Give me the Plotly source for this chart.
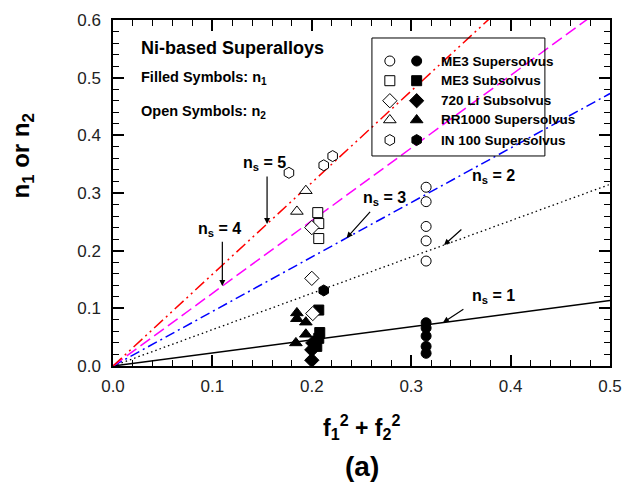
import math
import plotly.graph_objects as go

# ---------------- data ----------------
series_names = ["ME3 Supersolvus", "ME3 Subsolvus", "720 Li Subsolvus",
                "RR1000 Supersolvus", "IN 100 Supersolvus"]
series_symbols = ["circle", "square", "diamond", "triangle-up", "hexagon"]

# open symbols: n2 ; filled symbols: n1
me3_super_n2_x = [0.315, 0.315, 0.315, 0.315, 0.315]
me3_super_n2_y = [0.310, 0.285, 0.242, 0.217, 0.182]
me3_super_n1_x = [0.315, 0.315, 0.315, 0.315, 0.315]
me3_super_n1_y = [0.075, 0.066, 0.052, 0.034, 0.022]

me3_sub_n2_x = [0.206, 0.207, 0.207]
me3_sub_n2_y = [0.266, 0.247, 0.221]
me3_sub_n1_x = [0.207, 0.208, 0.207, 0.205]
me3_sub_n1_y = [0.097, 0.058, 0.048, 0.034]

li720_n2_x = [0.200, 0.200, 0.201]
li720_n2_y = [0.240, 0.152, 0.091]
li720_n1_x = [0.200, 0.200, 0.201]
li720_n1_y = [0.010, 0.028, 0.040]

rr1000_n2_x = [0.194, 0.185]
rr1000_n2_y = [0.304, 0.268]
rr1000_n1_x = [0.185, 0.185, 0.194, 0.194, 0.184]
rr1000_n1_y = [0.092, 0.082, 0.076, 0.055, 0.040]

in100_n2_x = [0.177, 0.212, 0.221]
in100_n2_y = [0.335, 0.348, 0.364]
in100_n1_x = [0.212]
in100_n1_y = [0.131]

# reference lines n = slope * (f1^2 + f2^2)
ns_values = [1, 2, 3, 4, 5]
ns_slopes = [0.227, 0.630, 0.945, 1.260, 1.590]
x_line_range = [0.0, 0.5]

# ---------------- styles ----------------
FONT = "Arial, Liberation Sans, Helvetica, sans-serif"
line_styles = {
    1: dict(color="black", width=1.5, dash="solid"),
    2: dict(color="black", width=1.3, dash="1.5px,3px"),
    3: dict(color="#0000ff", width=1.5, dash="10px,4px,2px,4px"),
    4: dict(color="#ff00ff", width=1.5, dash="12px,5px"),
    5: dict(color="#ff0000", width=1.5, dash="12px,4px,2px,4px,2px,4px"),
}
marker_sizes = {"circle": 10, "square": 10, "diamond": 11, "triangle-up": 11, "hexagon": 11}

fig = go.Figure()

for ns, slope in zip(ns_values, ns_slopes):
    fig.add_trace(go.Scatter(
        x=x_line_range, y=[slope * v for v in x_line_range],
        mode="lines", line=line_styles[ns], showlegend=False, hoverinfo="skip"))

groups = [
    (me3_super_n2_x, me3_super_n2_y, me3_super_n1_x, me3_super_n1_y),
    (me3_sub_n2_x, me3_sub_n2_y, me3_sub_n1_x, me3_sub_n1_y),
    (li720_n2_x, li720_n2_y, li720_n1_x, li720_n1_y),
    (rr1000_n2_x, rr1000_n2_y, rr1000_n1_x, rr1000_n1_y),
    (in100_n2_x, in100_n2_y, in100_n1_x, in100_n1_y),
]

for name, sym, (ox, oy, fx, fy) in zip(series_names, series_symbols, groups):
    sz = marker_sizes[sym]
    fig.add_trace(go.Scatter(
        x=ox, y=oy, mode="markers", name=name + " n2", showlegend=False,
        marker=dict(symbol=sym, size=sz, color="white",
                    line=dict(color="black", width=1))))
    fig.add_trace(go.Scatter(
        x=fx, y=fy, mode="markers", name=name + " n1", showlegend=False,
        marker=dict(symbol=sym, size=sz, color="black",
                    line=dict(color="black", width=1))))


# ---- manual legend: symbols drawn as pixel-sized shapes anchored in paper coords ----
def symbol_path(sym, size):
    r = size / 2.0
    if sym == "diamond":
        d = r * 1.3
        pts = [(d, 0), (0, d), (-d, 0), (0, -d)]
    elif sym == "triangle-up":
        rt = r * 2 / math.sqrt(3)
        pts = [(-rt, -r / 2), (rt, -r / 2), (0, r)]
    else:  # hexagon, pointy top
        rs = r * math.sqrt(3) / 2
        pts = [(0, r), (-rs, r / 2), (-rs, -r / 2), (0, -r), (rs, -r / 2), (rs, r / 2)]
    return "M" + " L".join("%.2f,%.2f" % p for p in pts) + " Z"


def add_legend_symbol(sym, xa, ya, filled):
    size = marker_sizes[sym]
    r = size / 2.0
    common = dict(xref="paper", yref="paper", xsizemode="pixel", ysizemode="pixel",
                  xanchor=xa, yanchor=ya,
                  line=dict(color="black", width=1),
                  fillcolor="black" if filled else "white", layer="above")
    if sym == "circle":
        fig.add_shape(type="circle", x0=-r, x1=r, y0=-r, y1=r, **common)
    elif sym == "square":
        fig.add_shape(type="rect", x0=-r, x1=r, y0=-r, y1=r, **common)
    else:
        fig.add_shape(type="path", path=symbol_path(sym, size), **common)


leg_rows_y = [0.8815, 0.8246, 0.7667, 0.711, 0.653]
leg_open_x = 0.557
leg_fill_x = 0.611
leg_text_x = 0.655
for name, sym, ry in zip(series_names, series_symbols, leg_rows_y):
    add_legend_symbol(sym, leg_open_x, ry, False)
    add_legend_symbol(sym, leg_fill_x, ry, True)
    fig.add_annotation(x=leg_text_x, y=ry, xref="paper", yref="paper",
                       text="<b>" + name + "</b>", showarrow=False,
                       xanchor="left", yanchor="middle",
                       font=dict(family=FONT, size=13.5, color="black"))

fig.add_shape(type="rect", xref="paper", yref="paper",
              x0=0.521, x1=0.869, y0=0.607, y1=0.948,
              line=dict(color="black", width=1), fillcolor="rgba(0,0,0,0)")

# ---- text labels ----
fig.add_annotation(x=0.052, y=0.919, xref="paper", yref="paper",
                   text="<b>Ni-based Superalloys</b>", showarrow=False,
                   xanchor="left", yanchor="middle",
                   font=dict(family=FONT, size=18, color="black"))
fig.add_annotation(x=0.052, y=0.832, xref="paper", yref="paper",
                   text="<b>Filled Symbols: n<sub>1</sub></b>", showarrow=False,
                   xanchor="left", yanchor="middle",
                   font=dict(family=FONT, size=14.5, color="black"))
fig.add_annotation(x=0.052, y=0.734, xref="paper", yref="paper",
                   text="<b>Open Symbols: n<sub>2</sub></b>", showarrow=False,
                   xanchor="left", yanchor="middle",
                   font=dict(family=FONT, size=14.5, color="black"))

# ns labels and arrows: (text x, text y, tail x, tail y, tip x)
ns_label_pos = {
    5: (0.152, 0.352, 0.155, 0.331, 0.155),
    4: (0.107, 0.236, 0.110, 0.218, 0.110),
    3: (0.273, 0.291, 0.260, 0.270, 0.235),
    2: (0.383, 0.329, 0.352, 0.239, 0.333),
    1: (0.383, 0.120, 0.354, 0.100, 0.332),
}
for ns, slope in zip(ns_values, ns_slopes):
    tx, ty, ax_, ay_, tipx = ns_label_pos[ns]
    fig.add_annotation(x=tx, y=ty, xref="x", yref="y",
                       text="<b>n<sub>s</sub> = %d</b>" % ns, showarrow=False,
                       xanchor="center", yanchor="middle",
                       font=dict(family=FONT, size=16, color="black"))
    fig.add_annotation(x=tipx, y=slope * tipx, xref="x", yref="y",
                       ax=ax_, ay=ay_, axref="x", ayref="y",
                       text="", showarrow=True, arrowhead=2, arrowsize=1,
                       arrowwidth=1.2, arrowcolor="black", standoff=0)

# axis titles
fig.add_annotation(x=0.5007, y=-0.176, xref="paper", yref="paper",
                   text="<b>f<sub>1</sub><sup>2</sup> + f<sub>2</sub><sup>2</sup></b>",
                   showarrow=False, xanchor="center", yanchor="middle",
                   font=dict(family=FONT, size=23, color="black"))
fig.add_annotation(x=0.5007, y=-0.29, xref="paper", yref="paper",
                   text="<b>(a)</b>", showarrow=False,
                   xanchor="center", yanchor="middle",
                   font=dict(family=FONT, size=28, color="black"))
fig.add_annotation(x=-0.182, y=0.607, xref="paper", yref="paper",
                   text="<b>n<sub>1</sub> or n<sub>2</sub></b>", textangle=-90,
                   showarrow=False, xanchor="center", yanchor="middle",
                   font=dict(family=FONT, size=24, color="black"))

axis_common = dict(
    showgrid=False, zeroline=False, showline=True, linecolor="black",
    linewidth=1.5, mirror="allticks", ticks="inside", ticklen=11,
    tickwidth=1.5, tickcolor="black",
    tickfont=dict(family=FONT, size=17, color="#222222"),
    tickformat=".1f", tickmode="linear", tick0=0, dtick=0.1,
)
minor_common = dict(dtick=0.02, tick0=0, ticks="inside", ticklen=6,
                    tickcolor="black", tickwidth=1.3, showgrid=False)
fig.update_layout(
    width=622, height=483, autosize=False,
    margin=dict(l=113, r=12, t=20, b=117, autoexpand=False),
    paper_bgcolor="white", plot_bgcolor="white",
    showlegend=False,
    xaxis=dict(range=[0, 0.5], minor=minor_common, ticklabelstandoff=4,
               **axis_common),
    yaxis=dict(range=[0, 0.6], minor=minor_common, ticklabelstandoff=7,
               **axis_common),
)

fig.write_html("out.html",
               config=dict(displayModeBar=False, responsive=False),
               post_script="document.body.style.margin='0';"
                           "document.body.style.overflow='hidden';")
